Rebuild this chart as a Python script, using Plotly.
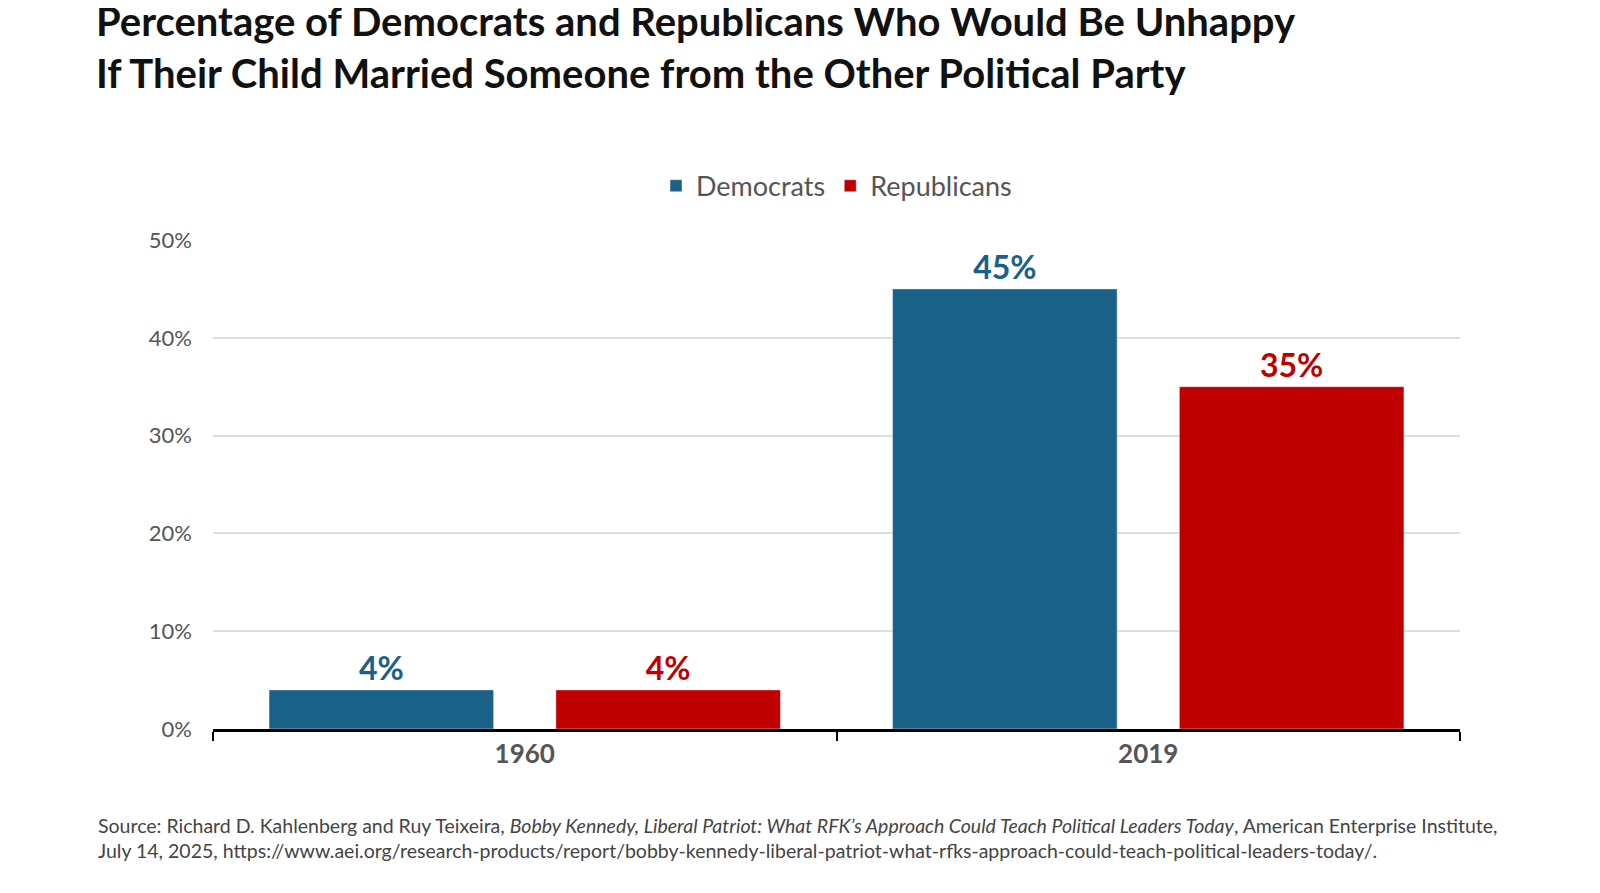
import plotly.graph_objects as go

years = ["1960", "2019"]
democrats = [4, 45]
republicans = [4, 35]

BLUE = "#1a6187"
RED = "#c00000"

fig = go.Figure()
fig.add_trace(go.Bar(x=years, y=democrats, name="Democrats", marker_color=BLUE,
                     text=[f"{v}%" for v in democrats], textposition="outside",
                     textfont=dict(color=BLUE, size=32, family="Lato", weight="bold"),
                     cliponaxis=False))
fig.add_trace(go.Bar(x=years, y=republicans, name="Republicans", marker_color=RED,
                     text=[f"{v}%" for v in republicans], textposition="outside",
                     textfont=dict(color=RED, size=32, family="Lato", weight="bold"),
                     cliponaxis=False))

fig.update_layout(
    width=1600, height=893,
    paper_bgcolor="white", plot_bgcolor="white",
    font=dict(family="Lato", color="#444"),
    barmode="group", bargap=0.08, bargroupgap=0.217,
    margin=dict(l=205, r=148, t=232, b=172),
    title=dict(
        text="Percentage of Democrats and Republicans Who Would Be Unhappy<br>"
             "If Their Child Married Someone from the Other Political Party",
        x=88 / 1600, xanchor="left", y=1 - 28 / 893, yanchor="top",
        font=dict(family="Lato", size=40, color="#111", weight="bold"),
    ),
    legend=dict(orientation="h", x=0.5, xanchor="center", y=1.11, yanchor="middle",
                font=dict(size=27, color="#555"), itemwidth=30),
    showlegend=True,
)
fig.update_yaxes(range=[0, 50], dtick=10, ticksuffix="%", showgrid=True,
                 gridcolor="#dddddd", gridwidth=1.5, zeroline=False,
                 tickfont=dict(size=22, color="#555"), ticks="", ticklabelstandoff=20)
fig.update_xaxes(showline=True, linecolor="black", linewidth=3, tickson="boundaries",
                 ticks="outside", ticklen=9, tickwidth=2, tickcolor="black",
                 tickfont=dict(size=26, color="#555", weight="bold"))

fig.add_annotation(
    xref="paper", yref="paper", x=-117 / 1247, y=-0.17, xanchor="left", yanchor="top",
    align="left", showarrow=False, font=dict(size=19.5, color="#444"),
    text="Source: Richard D. Kahlenberg and Ruy Teixeira, <i>Bobby Kennedy, Liberal Patriot: What RFK’s "
         "Approach Could Teach Political Leaders Today</i>, American Enterprise Institute,<br>"
         "July 14, 2025, https://www.aei.org/research-products/report/bobby-kennedy-liberal-patriot-"
         "what-rfks-approach-could-teach-political-leaders-today/.",
)

fig.write_html("out.html")
